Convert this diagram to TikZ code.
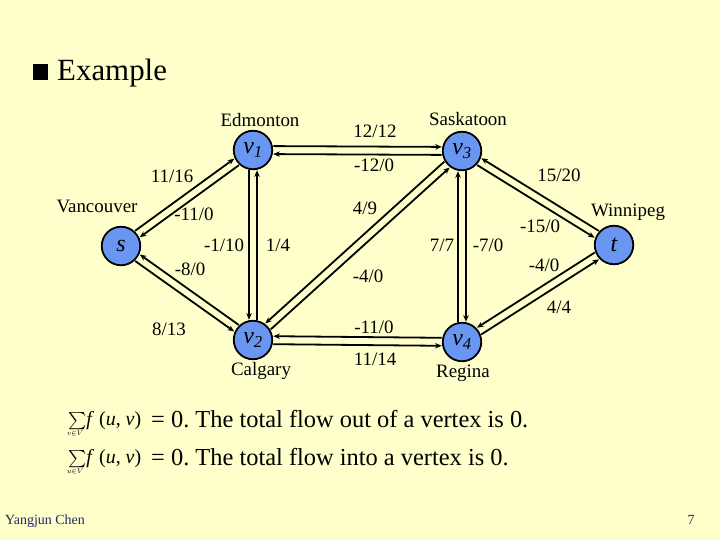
\documentclass[tikz,border=0pt]{standalone}
\usepackage{amsmath}
\usepackage{fontspec}
\setmainfont{Liberation Serif}
\frenchspacing
\usetikzlibrary{arrows.meta,calc}
\definecolor{slidebg}{RGB}{255,255,204}
\definecolor{vertexblue}{RGB}{104,150,240}
\definecolor{footerblue}{RGB}{30,40,100}
\newcommand{\sumunder}[1]{\rlap{\makebox[14bp]{\raisebox{-10bp}{\fontsize{7}{8}\selectfont$#1$}}}{\fontsize{19}{21}\selectfont$\sum$}}
\begin{document}
\begin{tikzpicture}[x=1bp,y=-1bp,
			vertex/.style={
				circle, draw, line width=1.8bp,
				fill=vertexblue, minimum size=38.5bp, inner sep=0pt,
				font=\fontsize{24}{26}\selectfont\itshape
			},
			label node/.style={anchor=base, inner sep=0pt, font=\fontsize{19}{22}\selectfont},
			flow/.style={
				line width=1.8bp, -{Stealth[length=6.5bp,width=5.5bp]},
				shorten <=20.3bp, shorten >=20.3bp
			},
			sum node/.style={anchor=base west, inner sep=0pt, font=\fontsize{20}{24}\selectfont},
			eq node/.style={anchor=base west, inner sep=0pt, font=\fontsize{24.5}{28}\selectfont}
			]
			\fill[slidebg] (0,0) rectangle (720,540);
			\useasboundingbox (0,0) rectangle (720,540);
			
			\fill (33,64) rectangle (48,80);
			\node[anchor=base west, inner sep=0pt, font=\fontsize{31}{34}\selectfont] (title) at (57,81) {Example};
			
			\node[vertex] (s) at (121,246) {s};
			\node[vertex] (v1) at (253,150) {v\textsubscript{1}};
			\node[vertex] (v3) at (462,151) {v\textsubscript{3}};
			\node[vertex] (v2) at (253,340) {v\textsubscript{2}};
			\node[vertex] (v4) at (462,342) {v\textsubscript{4}};
			\node[vertex] (t) at (614,245) {t};
			
			\draw[flow] ($(s)!4bp!90:(v1)$) -- ($(v1)!4bp!-90:(s)$);
			\draw[flow] ($(v1)!4bp!90:(s)$) -- ($(s)!4bp!-90:(v1)$);
			\draw[flow] ($(v1)!4bp!90:(v3)$) -- ($(v3)!4bp!-90:(v1)$);
			\draw[flow] ($(v3)!4bp!90:(v1)$) -- ($(v1)!4bp!-90:(v3)$);
			\draw[flow] ($(v1)!4bp!-90:(v2)$) -- ($(v2)!4bp!90:(v1)$);
			\draw[flow] ($(v2)!4bp!-90:(v1)$) -- ($(v1)!4bp!90:(v2)$);
			\draw[flow] ($(v2)!4bp!-90:(s)$) -- ($(s)!4bp!90:(v2)$);
			\draw[flow] ($(s)!4bp!-90:(v2)$) -- ($(v2)!4bp!90:(s)$);
			\draw[flow] ($(v3)!4bp!-90:(v2)$) -- ($(v2)!4bp!90:(v3)$);
			\draw[flow] ($(v2)!4bp!-90:(v3)$) -- ($(v3)!4bp!90:(v2)$);
			\draw[flow] ($(v4)!4bp!90:(v3)$) -- ($(v3)!4bp!-90:(v4)$);
			\draw[flow] ($(v3)!4bp!90:(v4)$) -- ($(v4)!4bp!-90:(v3)$);
			\draw[flow] ($(v4)!4bp!-90:(v2)$) -- ($(v2)!4bp!90:(v4)$);
			\draw[flow] ($(v2)!4bp!-90:(v4)$) -- ($(v4)!4bp!90:(v2)$);
			\draw[flow] ($(t)!4bp!-90:(v3)$) -- ($(v3)!4bp!90:(t)$);
			\draw[flow] ($(v3)!4bp!-90:(t)$) -- ($(t)!4bp!90:(v3)$);
			\draw[flow] ($(t)!4bp!-90:(v4)$) -- ($(v4)!4bp!90:(t)$);
			\draw[flow] ($(v4)!4bp!-90:(t)$) -- ($(t)!4bp!90:(v4)$);
			
			\node[label node] (edmonton) at (260,127) {Edmonton};
			\node[label node] (saskatoon) at (468,126) {Saskatoon};
			\node[label node] (vancouver) at (97,213) {Vancouver};
			\node[label node] (winnipeg) at (628,217) {Winnipeg};
			\node[label node] (calgary) at (261,375) {Calgary};
			\node[label node] (regina) at (463,377) {Regina};
			
			\node[label node] (fsv1) at (172,183) {11/16};
			\node[label node] (fv1s) at (194,221) {-11/0};
			\node[label node] (fv1v3) at (375,138) {12/12};
			\node[label node] (fv3v1) at (374,172) {-12/0};
			\node[label node] (fv1v2) at (224,252) {-1/10};
			\node[label node] (fv2v1) at (278,252) {1/4};
			\node[label node] (fv2s) at (190,276) {-8/0};
			\node[label node] (fsv2) at (169,335) {8/13};
			\node[label node] (fv2v3) at (365,215) {4/9};
			\node[label node] (fv3v2) at (368,283) {-4/0};
			\node[label node] (fv3v4) at (442,252) {7/7};
			\node[label node] (fv4v3) at (488,252) {-7/0};
			\node[label node] (fv4v2) at (374,333) {-11/0};
			\node[label node] (fv2v4) at (375,365) {11/14};
			\node[label node] (fv3t) at (559,182) {15/20};
			\node[label node] (ftv3) at (540,233) {-15/0};
			\node[label node] (ftv4) at (544,272) {-4/0};
			\node[label node] (fv4t) at (559,313) {4/4};
			
			\node[sum node] (sumout) at (68,425) {\sumunder{v{\in}V}\textit{f}\ (\textit{u},\ \textit{v})};
			\node[eq node] (eqout) at (151,427) {= 0. The total flow out of a vertex is 0.};
			
			\node[sum node] (sumin) at (68,463) {\sumunder{u{\in}V}\textit{f}\ (\textit{u},\ \textit{v})};
			\node[eq node] (eqin) at (151,465) {= 0. The total flow into a vertex is 0.};
			
			\node[anchor=base west, inner sep=0pt, text=footerblue, font=\fontsize{14}{16}\selectfont] (author) at (5,524) {Yangjun Chen};
			\node[anchor=base, inner sep=0pt, text=footerblue, font=\fontsize{14}{16}\selectfont] (pageno) at (691,524) {7};
			
		\end{tikzpicture}
\end{document}
